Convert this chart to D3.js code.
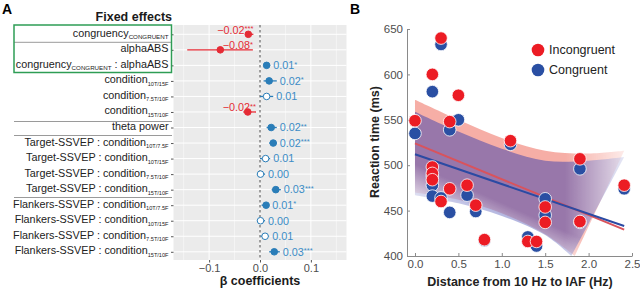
<!DOCTYPE html>
<html>
<head>
<meta charset="utf-8">
<script src="https://cdn.jsdelivr.net/npm/d3@7"></script>
<style>
  body { margin: 0; background: #fff; }
  svg { display: block; font-family: "Liberation Sans", Arial, sans-serif; }
</style>
</head>
<body>
<div id="chart"></div>
<script>
// ---- Panel A data (fixed effects) ----
const termNames = ["congruency", "alphaABS", "congruency", "condition", "condition", "condition", "theta power",
  "Target-SSVEP : condition", "Target-SSVEP : condition", "Target-SSVEP : condition", "Target-SSVEP : condition",
  "Flankers-SSVEP : condition", "Flankers-SSVEP : condition", "Flankers-SSVEP : condition", "Flankers-SSVEP : condition"];
const termSubs = ["CONGRUENT", "", "CONGRUENT", "10T/15F", "7.5T/10F", "15T/10F", "",
  "10T/7.5F", "10T/15F", "7.5T/10F", "15T/10F", "10T/7.5F", "10T/15F", "7.5T/10F", "15T/10F"];
const termTails = ["", "", " : alphaABS", "", "", "", "", "", "", "", "", "", "", "", ""];
const betas  = [-0.023, -0.078, 0.013, 0.018, 0.013, -0.024, 0.022, 0.026, 0.011, 0.001, 0.031, 0.012, 0.001, 0.010, 0.028];
const ciLow  = [-0.027, -0.143, 0.007, 0.007, 0.000, -0.033, 0.013, 0.018, 0.000, -0.006, 0.023, 0.003, -0.006, 0.001, 0.018];
const ciHigh = [-0.013, -0.014, 0.020, 0.033, 0.026, -0.008, 0.033, 0.033, 0.020, 0.010, 0.041, 0.018, 0.010, 0.018, 0.039];
const betaText = ["\u22120.02", "\u22120.08", "0.01", "0.02", "0.01", "\u22120.02", "0.02", "0.02", "0.01", "0.00", "0.03", "0.01", "0.00", "0.01", "0.03"];
const stars = ["***", "*", "*", "*", "", "**", "**", "***", "", "", "***", "*", "", "", "***"];
const xTicksA = [-0.1, 0, 0.1];

// ---- Panel B data ----
const distance      = [0, 0.2, 0.3, 0.4, 0.5, 0.2, 0.2, 0.2, 0.3, 0.4, 0.6, 0.7, 0.8, 1.1, 1.3, 1.4, 1.5, 1.5, 1.9, 1.9, 2.41];
const rtIncongruent = [549, 600, 640, 548, 577, 498, 491, 484, 460, 474, 478, 456, 418, 527, 416, 416, 454, 437, 507, 438, 478];
const rtCongruent   = [535, 581, 633, 539, 550, 488, 478, 466, 464, 448, 467, 449, 417, 523, 421, 411, 463, 445, 496, 437, 474];
const fitX = [0, 2.41];
const fitIncongruent = [524, 429];
const fitCongruent = [512, 433];
// confidence bands: upper edges over the whole range, lower edges until they leave the axis
const bandUpperX = [0, 0.5, 1, 1.5, 2, 2.41];
const bandIncUpper = [572, 550, 530, 516, 513, 516];
const bandConUpper = [559, 537, 518, 505, 505, 509];
const bandIncLowerX = [0, 0.5, 1, 1.5, 1.84];
const bandIncLower = [470, 462, 447, 424, 400];
const bandConLowerX = [0, 0.5, 1, 1.5, 1.8];
const bandConLower = [467, 458, 444, 423, 400];
const xTicksB = [0, 0.5, 1, 1.5, 2, 2.5];
const yTicksB = [400, 450, 500, 550, 600, 650];

const red = "#ec1c24", blue = "#2a4fa3";
const betaRed = "#e52b35", betaBlue = "#2a7db8", betaTextBlue = "#3a8cc6";

const svg = d3.select("#chart").append("svg")
    .attr("width", 640).attr("height", 291);

// ================= Panel A =================
const xA = d3.scaleLinear().domain([-0.17, 0.17]).range([173.5, 346.5]);
const yA = d3.scalePoint().domain(d3.range(termNames.length)).range([34.3, 251.8]);
const panelTop = 25, panelBottom = 260;

svg.append("text").attr("x", 2).attr("y", 14)
    .attr("font-size", 14).attr("font-weight", "bold").text("A");

svg.append("text").attr("x", 172).attr("y", 21)
    .attr("text-anchor", "end").attr("font-size", 12.5).attr("font-weight", "bold")
    .attr("fill", "#1a1a1a").text("Fixed effects");

svg.append("rect")
    .attr("x", xA.range()[0]).attr("y", panelTop)
    .attr("width", xA.range()[1] - xA.range()[0]).attr("height", panelBottom - panelTop)
    .attr("fill", "#ebebeb");

// minor vertical grid
svg.append("g").selectAll("line")
    .data([-0.15, -0.05, 0.05, 0.15])
    .join("line")
    .attr("x1", d => xA(d)).attr("x2", d => xA(d))
    .attr("y1", panelTop).attr("y2", panelBottom)
    .attr("stroke", "#fff").attr("stroke-width", 0.5);

// major grid
svg.append("g").selectAll("line")
    .data(xTicksA)
    .join("line")
    .attr("x1", d => xA(d)).attr("x2", d => xA(d))
    .attr("y1", panelTop).attr("y2", panelBottom)
    .attr("stroke", "#fff").attr("stroke-width", 1);

svg.append("g").selectAll("line")
    .data(yA.domain())
    .join("line")
    .attr("x1", xA.range()[0]).attr("x2", xA.range()[1])
    .attr("y1", d => yA(d)).attr("y2", d => yA(d))
    .attr("stroke", "#fff").attr("stroke-width", 1);

// zero line
svg.append("line")
    .attr("x1", xA(0)).attr("x2", xA(0))
    .attr("y1", panelTop).attr("y2", panelBottom)
    .attr("stroke", "#333").attr("stroke-width", 0.9)
    .attr("stroke-dasharray", "2.5,2.5");

// axes
const axALeft = svg.append("g")
    .attr("transform", `translate(${xA.range()[0]},0)`)
    .call(d3.axisLeft(yA).tickSize(2.5).tickFormat(""));
axALeft.select(".domain").remove();
axALeft.selectAll("line").attr("stroke", "#555");

const axABottom = svg.append("g")
    .attr("transform", `translate(0,${panelBottom})`)
    .call(d3.axisBottom(xA).tickValues(xTicksA).tickSize(2.5).tickPadding(2).tickFormat(d3.format(".1f")));
axABottom.select(".domain").remove();
axABottom.selectAll("line").attr("stroke", "#555");
axABottom.selectAll("text").attr("font-size", 11).attr("fill", "#4d4d4d")
    .attr("font-family", "Liberation Sans, Arial, sans-serif");

svg.append("text").attr("x", xA(0)).attr("y", 285)
    .attr("text-anchor", "middle").attr("font-size", 12.5).attr("font-weight", "bold")
    .attr("fill", "#1a1a1a").text("\u03b2 coefficients");

// row labels
const labels = svg.append("g").selectAll("text")
    .data(yA.domain())
    .join("text")
    .attr("x", 168.5).attr("y", d => yA(d) + 2.5)
    .attr("text-anchor", "end").attr("font-size", 10.8).attr("fill", "#222");
labels.append("tspan").text(d => termNames[d]);
labels.append("tspan").attr("dy", 2.5).attr("font-size", d => termSubs[d] === "CONGRUENT" ? 6.2 : 5.6)
    .text(d => termSubs[d]);
labels.append("tspan").attr("dy", -2.5).text(d => termTails[d]);

// separators and green box
const sepY = [42.3, 121.5, 135.5, 197.5];
svg.append("g").selectAll("line")
    .data(sepY)
    .join("line")
    .attr("x1", 14).attr("x2", 172)
    .attr("y1", d => d).attr("y2", d => d)
    .attr("stroke", "#9a9a9a").attr("stroke-width", 1);

svg.append("rect")
    .attr("x", 14).attr("y", 25).attr("width", 157.5).attr("height", 47.5)
    .attr("fill", "none").attr("stroke", "#2e9d55").attr("stroke-width", 1.5);

// estimates
const rows = yA.domain();
const colorOf = i => betas[i] < 0 ? betaRed : betaBlue;

svg.append("g").selectAll("line")
    .data(rows)
    .join("line")
    .attr("x1", i => xA(ciLow[i])).attr("x2", i => xA(ciHigh[i]))
    .attr("y1", i => yA(i)).attr("y2", i => yA(i))
    .attr("stroke", colorOf).attr("stroke-width", 1.3);

svg.append("g").selectAll("circle")
    .data(rows)
    .join("circle")
    .attr("cx", i => xA(betas[i])).attr("cy", i => yA(i)).attr("r", 3.3)
    .attr("fill", i => stars[i] ? colorOf(i) : "#fff")
    .attr("stroke", colorOf).attr("stroke-width", 1);

const valLabels = svg.append("g").selectAll("text")
    .data(rows)
    .join("text")
    .attr("font-size", 10.8)
    .attr("fill", i => betas[i] < 0 ? betaRed : betaTextBlue)
    .attr("text-anchor", i => betas[i] < 0 ? "end" : "start")
    .attr("x", i => betas[i] < 0 ? xA(ciHigh[i]) : xA(ciHigh[i]) + 3)
    .attr("y", i => betas[i] < 0 ? yA(i) - 0.5 : yA(i) + 3.8);
valLabels.append("tspan").text(i => betaText[i]);
valLabels.append("tspan").attr("font-size", 7.5).attr("dy", -2.5).text(i => stars[i]);

// ================= Panel B =================
const xB = d3.scaleLinear().domain([-0.092, 2.5]).range([407, 632]);
const yB = d3.scaleLinear().domain([400, 650]).range([256, 29]);

svg.append("text").attr("x", 350).attr("y", 14)
    .attr("font-size", 14).attr("font-weight", "bold").text("B");

const defs = svg.append("defs");
defs.append("clipPath").attr("id", "plotB")
    .append("rect").attr("x", 407).attr("y", 29).attr("width", 225).attr("height", 227);

const fadeLeft = defs.append("linearGradient").attr("id", "fadeLeft")
    .attr("gradientUnits", "userSpaceOnUse")
    .attr("x1", 425).attr("y1", 214).attr("x2", 442).attr("y2", 176);
fadeLeft.append("stop").attr("offset", 0).attr("stop-color", "#000");
fadeLeft.append("stop").attr("offset", 1).attr("stop-color", "#fff");
const fadeRight = defs.append("linearGradient").attr("id", "fadeRight")
    .attr("gradientUnits", "userSpaceOnUse")
    .attr("x1", 565).attr("y1", 0).attr("x2", 626).attr("y2", 0);
fadeRight.append("stop").attr("offset", 0).attr("stop-color", "#fff");
fadeRight.append("stop").attr("offset", 1).attr("stop-color", "#3a3a3a");

defs.append("mask").attr("id", "maskLeft")
    .append("rect").attr("x", 400).attr("y", 20).attr("width", 240).attr("height", 250)
    .attr("fill", "url(#fadeLeft)");
defs.append("mask").attr("id", "maskRight")
    .append("rect").attr("x", 400).attr("y", 20).attr("width", 240).attr("height", 250)
    .attr("fill", "url(#fadeRight)");

const edge = d3.line().x(d => xB(d[0])).y(d => yB(d[1])).curve(d3.curveCatmullRom);
const bandPath = (upX, up, loX, lo) => {
  const top = edge(upX.map((x, i) => [x, up[i]]));
  const bottom = edge(loX.map((x, i) => [x, lo[i]]).reverse());
  return top + "L" + bottom.slice(1) + "Z";
};

const bands = svg.append("g").attr("clip-path", "url(#plotB)")
    .append("g").attr("mask", "url(#maskRight)")
    .append("g").attr("mask", "url(#maskLeft)");
bands.append("path").attr("d", bandPath(bandUpperX, bandIncUpper, bandIncLowerX, bandIncLower))
    .attr("fill", "#f4a097").attr("opacity", 0.85);
bands.append("path").attr("d", bandPath(bandUpperX, bandConUpper, bandConLowerX, bandConLower))
    .attr("fill", "#3a3fae").attr("opacity", 0.5);

// fit lines
const fitLine = vals => d3.line()
    .x((d, i) => xB(fitX[i]))
    .y((d, i) => yB(vals[i]))(fitX);
svg.append("path").attr("d", fitLine(fitIncongruent))
    .attr("fill", "none").attr("stroke", "#d9535c").attr("stroke-width", 2);
svg.append("path").attr("d", fitLine(fitCongruent))
    .attr("fill", "none").attr("stroke", "#2b4aa3").attr("stroke-width", 2);

// axes
const axBLeft = svg.append("g")
    .attr("transform", "translate(407,0)")
    .call(d3.axisLeft(yB).tickValues(yTicksB).tickSize(-3).tickSizeOuter(0).tickPadding(4));
const axBBottom = svg.append("g")
    .attr("transform", "translate(0,256)")
    .call(d3.axisBottom(xB).tickValues(xTicksB).tickSize(-3).tickSizeOuter(0).tickPadding(4));
[axBLeft, axBBottom].forEach(ax => {
  ax.select(".domain").attr("stroke", "#8a8a8a");
  ax.selectAll("line").attr("stroke", "#8a8a8a");
  ax.selectAll("text").attr("font-size", 11.5).attr("fill", "#4d4d4d")
      .attr("font-family", "Liberation Sans, Arial, sans-serif");
});

// points
svg.append("g").selectAll("circle")
    .data(distance)
    .join("circle")
    .attr("cx", (d, i) => xB(distance[i])).attr("cy", (d, i) => yB(rtCongruent[i]))
    .attr("r", 6.3).attr("fill", blue).attr("stroke", "#fff").attr("stroke-width", 0.8);
svg.append("g").selectAll("circle")
    .data(distance)
    .join("circle")
    .attr("cx", (d, i) => xB(distance[i])).attr("cy", (d, i) => yB(rtIncongruent[i]))
    .attr("r", 6.3).attr("fill", red).attr("stroke", "#fff").attr("stroke-width", 0.8);

// titles
svg.append("text")
    .attr("transform", "translate(379,142) rotate(-90)")
    .attr("text-anchor", "middle").attr("font-size", 12.5).attr("font-weight", "bold")
    .attr("fill", "#222").text("Reaction time (ms)");
svg.append("text").attr("x", 520).attr("y", 286)
    .attr("text-anchor", "middle").attr("font-size", 12.5).attr("font-weight", "bold")
    .attr("fill", "#222").text("Distance from 10 Hz to IAF (Hz)");

// legend
const legendNames = ["Incongruent", "Congruent"];
const legendColors = [red, blue];
const legend = svg.append("g").selectAll("g")
    .data(legendNames)
    .join("g")
    .attr("transform", (d, i) => `translate(538,${50 + i * 20})`);
legend.append("circle").attr("r", 6.3).attr("fill", (d, i) => legendColors[i]);
legend.append("text").attr("x", 11).attr("y", 4)
    .attr("font-size", 12.5).attr("fill", "#222").text(d => d);
</script>
</body>
</html>
